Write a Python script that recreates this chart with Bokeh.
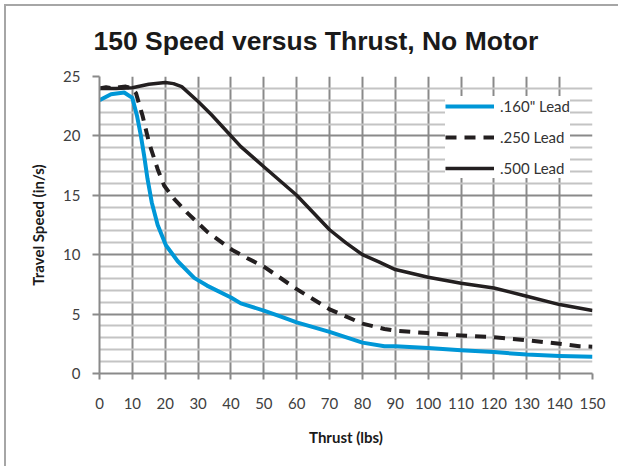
from bokeh.plotting import figure
from bokeh.models import (Legend, LegendItem, FixedTicker, Title, Range1d)
from bokeh.embed import file_html
from bokeh.resources import INLINE

title_text = "150 Speed versus Thrust, No Motor"
x_label = "Thrust (lbs)"
y_label = "Travel Speed (in/s)"

x_ticks = [0, 10, 20, 30, 40, 50, 60, 70, 80, 90, 100, 110, 120, 130, 140, 150]
y_ticks = [0, 5, 10, 15, 20, 25]
y_minor = [1, 2, 3, 4, 6, 7, 8, 9, 11, 12, 13, 14, 16, 17, 18, 19, 21, 22, 23, 24]

names = ['.160" Lead', '.250 Lead', '.500 Lead']

x_160 = [0, 3.5, 7.5, 10, 11.4, 12.6, 13.6, 14.6, 15.9, 17.7, 20.2, 23.8, 28.8, 32.7, 40, 43, 50, 55, 60, 70, 80, 86.7, 90, 100, 110, 120, 130, 140, 150]
y_160 = [23.0, 23.5, 23.65, 23.2, 21.7, 20.0, 18.3, 16.4, 14.4, 12.5, 10.8, 9.45, 8.05, 7.4, 6.4, 5.9, 5.3, 4.8, 4.3, 3.5, 2.6, 2.3, 2.3, 2.15, 1.95, 1.8, 1.6, 1.47, 1.4]

x_250 = [0, 2, 4, 6, 8, 10, 11.1, 13.1, 15.1, 17.7, 19.7, 22.7, 26.8, 32.9, 40.4, 45, 50, 60, 70, 80, 86.7, 90, 100, 110, 120, 130, 140, 146, 150]
y_250 = [24.0, 24.1, 24.0, 24.1, 24.15, 24.0, 23.6, 21.7, 19.4, 17.2, 15.8, 14.7, 13.5, 11.9, 10.4, 9.7, 9.0, 7.1, 5.4, 4.2, 3.75, 3.6, 3.4, 3.2, 3.05, 2.8, 2.5, 2.3, 2.25]

x_500 = [0, 5, 10, 15, 20, 22.5, 25, 30, 34, 38, 43, 50, 60, 70, 75, 80, 85, 90, 100, 110, 120, 130, 140, 150]
y_500 = [24.0, 24.0, 24.05, 24.35, 24.5, 24.4, 24.15, 22.9, 21.8, 20.6, 19.1, 17.4, 15.0, 12.1, 11.0, 10.0, 9.4, 8.75, 8.1, 7.6, 7.2, 6.5, 5.8, 5.3]

BLUE = "#0097d7"
BLACK = "#231f20"
GRID = "#8a8a8a"
MINOR = "#c4c4c4"

p = figure(width=614, height=462, output_backend="svg", toolbar_location=None,
           x_range=Range1d(0, 150), y_range=Range1d(0, 25),
           min_border_left=93, min_border_right=28, min_border_top=67, min_border_bottom=95,
           styles={"border-left": "2px solid #a6a6a6", "border-top": "2px solid #a6a6a6",
                   "margin-left": "4px", "margin-top": "4px"})
p.outline_line_color = None
p.background_fill_color = "white"
p.border_fill_color = "white"

t = Title(text=title_text, align="left", offset=-6, standoff=38, vertical_align="top",
          text_font="Liberation Sans", text_font_style="bold", text_font_size="26.5px",
          text_color="#1a1a1a")
p.add_layout(t, "above")

# grids
p.xgrid.ticker = FixedTicker(ticks=x_ticks)
p.xgrid.grid_line_color = GRID
p.xgrid.grid_line_width = 2
p.ygrid.ticker = FixedTicker(ticks=y_ticks, minor_ticks=y_minor)
p.ygrid.grid_line_color = GRID
p.ygrid.grid_line_width = 2
p.ygrid.minor_grid_line_color = MINOR
p.ygrid.minor_grid_line_width = 2
p.ygrid.level = "underlay"
p.xgrid.level = "image"

# axes
p.xaxis.ticker = FixedTicker(ticks=x_ticks)
p.yaxis.ticker = FixedTicker(ticks=y_ticks)
for ax in (p.xaxis[0], p.yaxis[0]):
    ax.axis_line_color = GRID
    ax.axis_line_width = 2
    ax.major_tick_line_color = GRID
    ax.major_tick_line_width = 2
    ax.major_tick_in = 0
    ax.minor_tick_line_color = None
    ax.major_label_text_font = "Lato"
    ax.major_label_text_font_size = "15px"
    ax.major_label_text_color = "#404040"
    ax.axis_label_text_font = "Lato"
    ax.axis_label_text_font_style = "bold"
    ax.axis_label_text_font_size = "15px"
    ax.axis_label_text_color = "#1a1a1a"
p.xaxis.major_tick_out = 6
p.yaxis.major_tick_out = 7
p.xaxis.major_label_standoff = 18
p.yaxis.major_label_standoff = 12
p.xaxis.axis_label = x_label
p.yaxis.axis_label = y_label
p.xaxis.axis_label_standoff = 16
p.yaxis.axis_label_standoff = 13

r1 = p.line(x_160, y_160, line_color=BLUE, line_width=4, line_join="round")
r2 = p.line(x_250, y_250, line_color=BLACK, line_width=4, line_dash="11 8", line_join="round")
r3 = p.line(x_500, y_500, line_color=BLACK, line_width=3.5, line_join="round")

legend = Legend(items=[LegendItem(label=names[0], renderers=[r1]),
                       LegendItem(label=names[1], renderers=[r2]),
                       LegendItem(label=names[2], renderers=[r3])],
                location=(346, 195), orientation="vertical",
                glyph_width=49, glyph_height=20, label_height=20, spacing=11,
                padding=5, margin=0, label_standoff=6,
                label_text_font="Lato", label_text_font_size="15px",
                label_text_color="#333333",
                border_line_color=None, background_fill_color="white",
                background_fill_alpha=1.0)
p.add_layout(legend, "center")

open("out.html", "w").write(file_html(p, INLINE))
